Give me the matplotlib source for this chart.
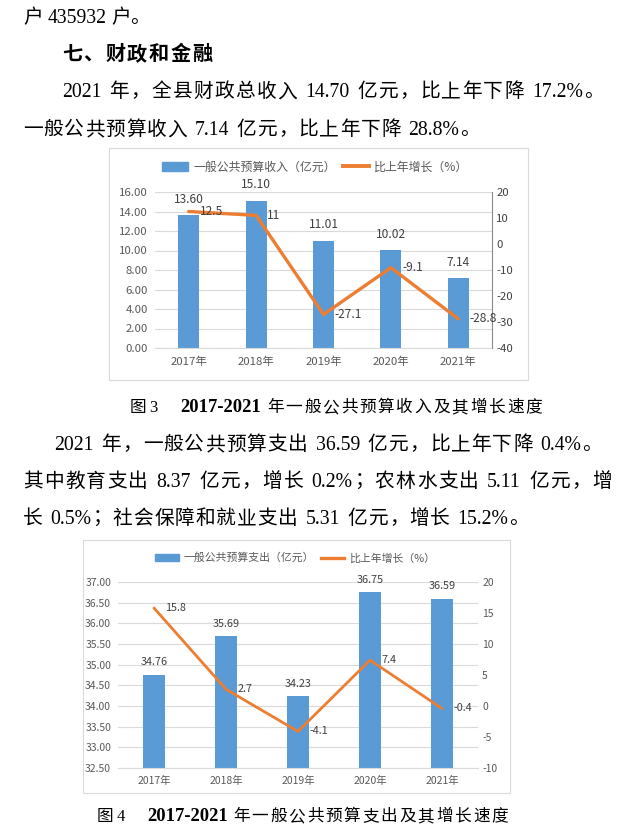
import matplotlib

matplotlib.use("Agg")
import matplotlib.pyplot as plt
from matplotlib.lines import Line2D
from matplotlib.patches import Patch, Rectangle

W, H = 641, 833
BLUE = "#5B9BD5"
ORANGE = "#ED7D31"
GRID = "#D9D9D9"
TICK = "#595959"
LABEL = "#404040"

years = ["2017年", "2018年", "2019年", "2020年", "2021年"]
revenue = [13.60, 15.10, 11.01, 10.02, 7.14]
revenue_growth = [12.5, 11, -27.1, -9.1, -28.8]
expenditure = [34.76, 35.69, 34.23, 36.75, 36.59]
expenditure_growth = [15.8, 2.7, -4.1, 7.4, -0.4]

rev_ticks = [0, 2, 4, 6, 8, 10, 12, 14, 16]
rev_growth_ticks = [-40, -30, -20, -10, 0, 10, 20]
exp_ticks = [32.5, 33.0, 33.5, 34.0, 34.5, 35.0, 35.5, 36.0, 36.5, 37.0]
exp_growth_ticks = [-10, -5, 0, 5, 10, 15, 20]

PUNCT = "，。；、："


def fx(x):
    return x / W


def fy(y):
    return 1 - y / H


def layout_line(fig, s, x0, x1, y, size, weight="normal", latin_weight="normal"):
    # spread the tokens of one line evenly between x0 and x1 (justified text)
    px = size * 100 / 72
    r = fig.canvas.get_renderer()
    items = []
    buf = ""

    def flush(b):
        if b:
            t = fig.text(0, 0, b, fontsize=size, family="Liberation Serif",
                         weight=latin_weight, ha="left", va="baseline")
            items.append(("latin", t, t.get_window_extent(r).width, b))

    for ch in s:
        if ch == " ":
            flush(buf)
            buf = ""
            items.append(("space", None, 0.28 * px, ch))
        elif ord(ch) < 128:
            buf += ch
        else:
            flush(buf)
            buf = ""
            t = fig.text(0, 0, ch, fontsize=size, family="Noto Sans CJK SC",
                         weight=weight, va="baseline",
                         ha="left" if ch in PUNCT else "center")
            items.append(("cjk", t, px, ch))
    flush(buf)

    total = sum(w for _, _, w, _ in items)
    gap = (x1 - x0 - total) / max(len(items) - 1, 1)
    base = y + 0.36 * px
    x = x0
    for kind, t, w, ch in items:
        if t is not None:
            if kind == "cjk":
                pos = x if ch in PUNCT else x + w / 2
            else:
                pos = x
            t.set_position((fx(pos), fy(base)))
        x += w + gap


def draw_chart(fig, rect, frame, bars, growth, ticks, growth_ticks, labels,
               legend_xy, fs, leg_fs, lw, bar_off, right_spine, right_color):
    x0, y0, x1, y1 = frame
    fig.patches.append(Rectangle((fx(x0), fy(y1)), (x1 - x0) / W, (y1 - y0) / H,
                                 transform=fig.transFigure, fill=False,
                                 edgecolor=GRID, lw=0.8))
    ax = fig.add_axes(rect)
    xs = list(range(len(years)))
    ax.bar(xs, bars, width=0.31, color=BLUE, zorder=2)
    ax.set_xlim(-0.5, len(years) - 0.5)
    ax.set_ylim(ticks[0], ticks[-1])
    ax.set_yticks(ticks)
    ax.set_yticklabels([f"{t:.2f}" for t in ticks])
    ax.set_xticks(xs)
    ax.set_xticklabels(years)
    ax.grid(axis="y", color=GRID, lw=0.8)
    ax.set_axisbelow(True)
    for side in ["top", "left", "right"]:
        ax.spines[side].set_visible(False)
    ax.spines["bottom"].set_color(GRID)
    ax.spines["bottom"].set_linewidth(0.8)
    ax.tick_params(axis="y", length=0, labelsize=fs, labelcolor=TICK, pad=5)
    ax.tick_params(axis="x", length=0, labelsize=fs, labelcolor=TICK, pad=6)
    for i, v in enumerate(bars):
        ax.annotate(f"{v:.2f}", (i, v), xytext=(0, bar_off), textcoords="offset points",
                    ha="center", va="center", fontsize=leg_fs, color=LABEL)

    ax2 = ax.twinx()
    ax2.plot(xs, growth, color=ORANGE, lw=lw, solid_capstyle="round",
             solid_joinstyle="round", zorder=3)
    ax2.set_ylim(growth_ticks[0], growth_ticks[-1])
    ax2.set_yticks(growth_ticks)
    ax2.set_yticklabels([f"{t:g}" for t in growth_ticks])
    for side in ["top", "left", "bottom"]:
        ax2.spines[side].set_visible(False)
    if right_spine:
        ax2.spines["right"].set_color("#8C8C8C")
        ax2.spines["right"].set_linewidth(0.8)
    else:
        ax2.spines["right"].set_visible(False)
    ax2.tick_params(axis="y", length=0, labelsize=fs, labelcolor=right_color, pad=3)
    for i, g in enumerate(growth):
        ax2.annotate(f"{g:g}", (i, g), xytext=(8, 0), textcoords="offset points",
                     ha="left", va="center", fontsize=leg_fs, color=LABEL)

    handles = [Patch(color=BLUE), Line2D([], [], color=ORANGE, lw=lw + 0.4)]
    fig.legend(handles, labels, loc="center", ncol=2, frameon=False,
               bbox_to_anchor=(fx(legend_xy[0]), fy(legend_xy[1])),
               fontsize=leg_fs, labelcolor=TICK, handlelength=2.2,
               handletextpad=0.4, columnspacing=0.6, borderpad=0)


plt.rcParams["font.family"] = ["Noto Sans CJK SC", "DejaVu Sans"]
fig = plt.figure(figsize=(W / 100, H / 100), dpi=100)
fig.patch.set_facecolor("white")

# body text
layout_line(fig, "户 435932 户。", 23, 150, 16, 14.2)
layout_line(fig, "七、财政和金融", 62, 212, 53, 14.5, weight="bold")
layout_line(fig, "2021 年，全县财政总收入 14.70 亿元，比上年下降 17.2%。", 62, 604, 90, 14.2)
layout_line(fig, "一般公共预算收入 7.14 亿元，比上年下降 28.8%。", 23, 480, 128, 14.2)

layout_line(fig, "图 3", 130, 157, 406, 12)
fig.text(fx(180), fy(406 + 6), "2017-2021", fontsize=13.4, family="Liberation Serif",
         weight="bold", ha="left", va="baseline")
layout_line(fig, "年一般公共预算收入及其增长速度", 267, 542, 406, 12)

layout_line(fig, "2021 年，一般公共预算支出 36.59 亿元，比上年下降 0.4%。", 54, 602, 443, 14.2)
layout_line(fig, "其中教育支出 8.37 亿元，增长 0.2%；农林水支出 5.11 亿元，增", 23, 612, 480, 14.2)
layout_line(fig, "长 0.5%；社会保障和就业支出 5.31 亿元，增长 15.2%。", 23, 529, 517, 14.2)

layout_line(fig, "图 4", 97, 125, 815, 12)
fig.text(fx(147), fy(815 + 6), "2017-2021", fontsize=13.4, family="Liberation Serif",
         weight="bold", ha="left", va="baseline")
layout_line(fig, "年一般公共预算支出及其增长速度", 233, 508, 815, 12)

# figure 3
draw_chart(fig, [fx(155), fy(348), (492 - 155) / W, (348 - 192) / H],
           (109, 148, 528, 380), revenue, revenue_growth, rev_ticks, rev_growth_ticks,
           ["一般公共预算收入（亿元）", "比上年增长（%）"], (315, 167),
           8.2, 8.6, 2.4, 11.5, True, LABEL)

# figure 4
draw_chart(fig, [fx(118), fy(768), (478 - 118) / W, (768 - 582) / H],
           (83, 540, 510, 793), expenditure, expenditure_growth, exp_ticks, exp_growth_ticks,
           ["一般公共预算支出（亿元）", "比上年增长（%）"], (295, 558),
           7.5, 7.8, 2.0, 9, False, TICK)

fig.savefig("out.png", dpi=100, facecolor="white")
